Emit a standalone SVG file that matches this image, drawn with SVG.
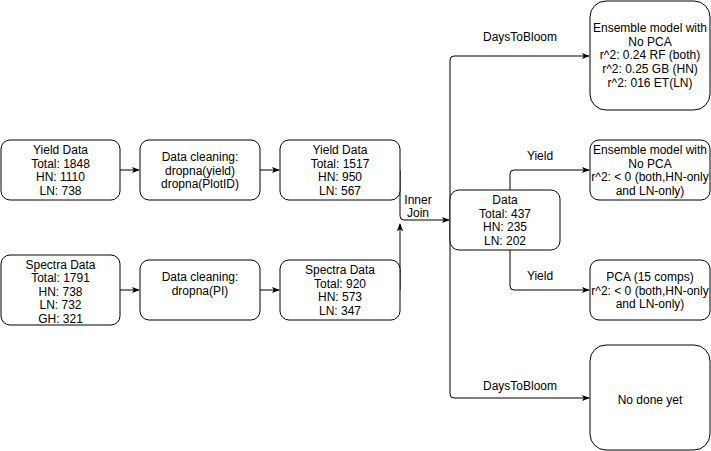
<svg xmlns="http://www.w3.org/2000/svg" width="711" height="451" viewBox="0 0 711 451">
<style>
.n rect{fill:#fff;stroke:#000;stroke-width:1}
text{font-family:"Liberation Sans",Arial,sans-serif;font-size:12px;fill:#000;text-anchor:middle}
.e path{fill:none;stroke:#000;stroke-width:1}
</style>
<defs>
<marker id="a" viewBox="0 0 10 10" refX="9" refY="5" markerWidth="8" markerHeight="8" markerUnits="userSpaceOnUse" orient="auto">
<path d="M0,1 L10,5 L0,9 L2.5,5 Z" fill="#000"/>
</marker>
</defs>
<rect width="711" height="451" fill="#fff"/>
<g class="e">
<path d="M120,170 H139" marker-end="url(#a)"/>
<path d="M260,170 H279" marker-end="url(#a)"/>
<path d="M120,290 H139" marker-end="url(#a)"/>
<path d="M260,290 H279" marker-end="url(#a)"/>
<path d="M400,170 V216 Q400,220 404,220 H449" marker-end="url(#a)"/>
<path d="M400,290 V224" marker-end="url(#a)"/>
<path d="M450,220 V60 Q450,56 454,56 H589" marker-end="url(#a)"/>
<path d="M450,220 V394 Q450,398 454,398 H589" marker-end="url(#a)"/>
<path d="M510,190 V174 Q510,170 514,170 H589" marker-end="url(#a)"/>
<path d="M510,250 V286 Q510,290 514,290 H589" marker-end="url(#a)"/>
</g>
<g>
<text x="418" y="204">Inner</text>
<text x="418" y="217">Join</text>
<text x="520" y="41">DaysToBloom</text>
<text x="520" y="390">DaysToBloom</text>
<text x="540" y="160">Yield</text>
<text x="540" y="280">Yield</text>
</g>
<g id="yield1" class="n"><rect x="1" y="140" width="119" height="60" rx="9"/>
<text x="60.5" y="154">Yield Data</text><text x="60.5" y="167.5">Total: 1848</text><text x="60.5" y="181">HN: 1110</text><text x="60.5" y="194.5">LN: 738</text></g>
<g id="clean1" class="n"><rect x="140" y="140" width="120" height="60" rx="9"/>
<text x="200" y="161">Data cleaning:</text><text x="200" y="174.5">dropna(yield)</text><text x="200" y="188">dropna(PlotID)</text></g>
<g id="yield2" class="n"><rect x="280" y="140" width="120" height="60" rx="9"/>
<text x="340" y="154">Yield Data</text><text x="340" y="167.5">Total: 1517</text><text x="340" y="181">HN: 950</text><text x="340" y="194.5">LN: 567</text></g>
<g id="spectra1" class="n"><rect x="1" y="255" width="119" height="70" rx="9"/>
<text x="60.5" y="268.5">Spectra Data</text><text x="60.5" y="282">Total: 1791</text><text x="60.5" y="295.5">HN: 738</text><text x="60.5" y="309">LN: 732</text><text x="60.5" y="322.5">GH: 321</text></g>
<g id="clean2" class="n"><rect x="140" y="260" width="120" height="60" rx="9"/>
<text x="200" y="281">Data cleaning:</text><text x="200" y="295">dropna(PI)</text></g>
<g id="spectra2" class="n"><rect x="280" y="260" width="120" height="60" rx="9"/>
<text x="340" y="274">Spectra Data</text><text x="340" y="287.5">Total: 920</text><text x="340" y="301">HN: 573</text><text x="340" y="314.5">LN: 347</text></g>
<g id="data" class="n"><rect x="450" y="190" width="110" height="60" rx="9"/>
<text x="505" y="204">Data</text><text x="505" y="217.5">Total: 437</text><text x="505" y="231">HN: 235</text><text x="505" y="244.5">LN: 202</text></g>
<g id="ens1" class="n"><rect x="590" y="1" width="120" height="109" rx="16"/>
<text x="650" y="32">Ensemble model with</text><text x="650" y="45.5">No PCA</text><text x="650" y="59">r^2: 0.24 RF (both)</text><text x="650" y="73">r^2: 0.25 GB (HN)</text><text x="650" y="87">r^2: 016 ET(LN)</text></g>
<g id="ens2" class="n"><rect x="590" y="140" width="120" height="60" rx="9"/>
<text x="650" y="154">Ensemble model with</text><text x="650" y="167.5">No PCA</text><text x="650" y="181">r^2: &lt; 0 (both,HN-only</text><text x="650" y="194.5">and LN-only)</text></g>
<g id="pca" class="n"><rect x="590" y="260" width="120" height="60" rx="9"/>
<text x="650" y="281">PCA (15 comps)</text><text x="650" y="294.5">r^2: &lt; 0 (both,HN-only</text><text x="650" y="308">and LN-only)</text></g>
<g id="nodone" class="n"><rect x="590" y="345" width="120" height="105" rx="16"/>
<text x="650" y="404">No done yet</text></g>
</svg>
